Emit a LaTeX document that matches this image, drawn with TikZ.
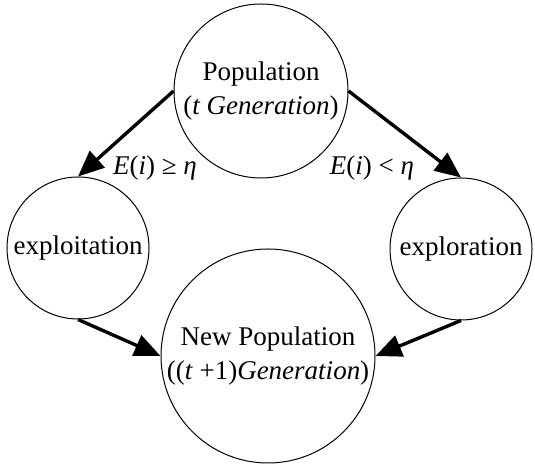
\documentclass[tikz,border=0pt]{standalone}
\usepackage{fontspec}
\setmainfont{Liberation Serif}
\usetikzlibrary{arrows.meta}

\tikzset{
  state/.style={draw, circle, line width=0.5pt, inner sep=0pt, align=center,
    font=\fontsize{13.5}{17}\selectfont},
  arr/.style={line width=1.7pt, -{Triangle[length=13pt, width=11pt]}},
  cond/.style={font=\fontsize{13.5}{17}\selectfont, inner sep=0pt}
}

\begin{document}
\begin{tikzpicture}[x=0.5pt, y=0.5pt]
      \useasboundingbox (0,0) rectangle (535,464);
      % States
      \node[state, minimum size=87pt] (pop) at (261,373)
        {Population\\(\textit{t Generation})};
      \node[state, minimum size=71pt] (exploit) at (78,216) {exploitation};
      \node[state, minimum size=71pt] (explore) at (461,215) {exploration};
      \node[state, minimum size=107pt] (newpop) at (268,108)
        {New Population\\((\textit{t} +1)\textit{Generation})};
      % Conditions
      \node[cond] (ge) at (155,296) {\textit{E}(\textit{i}) ≥ \textit{η}};
      \node[cond] (lt) at (372,296) {\textit{E}(\textit{i}) < \textit{η}};
      % Arrows
      \draw[arr] (pop.west) -- (exploit.north);
      \draw[arr] (pop.east) -- (explore.north);
      \draw[arr] (exploit.south) -- (newpop.west);
      \draw[arr] (explore.south) -- (newpop.east);
    \end{tikzpicture}
\end{document}
